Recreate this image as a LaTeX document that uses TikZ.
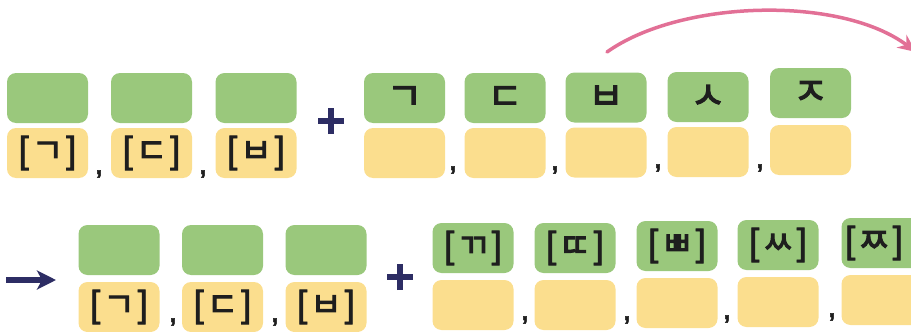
\documentclass[tikz,border=0pt]{standalone}
\usepackage{fontspec}
\newfontfamily\jmf[FakeBold=3]{Noto Sans CJK KR}
\newfontfamily\brf[FakeBold=2]{Liberation Sans}
\newfontfamily\cm[FakeBold=2]{Liberation Sans Bold}
\usetikzlibrary{arrows.meta}
\definecolor{boxgreen}{RGB}{154,200,124}
\definecolor{boxyellow}{RGB}{251,222,142}
\definecolor{navy}{RGB}{45,45,100}
\definecolor{pinkarc}{RGB}{226,112,150}
\definecolor{ink}{RGB}{30,30,30}
\newcommand\brk[1]{{\brf\fontsize{37}{37}\selectfont[}\hspace{3pt}{\jmf\fontsize{34}{34}\selectfont #1}\hspace{3pt}{\brf\fontsize{37}{37}\selectfont]}}
\tikzset{
  gbox/.style={fill=boxgreen, rounded corners=9pt, minimum width=81pt, minimum height=50pt, inner sep=0pt, text=ink},
  ybox/.style={fill=boxyellow, rounded corners=9pt, minimum width=81pt, minimum height=50pt, inner sep=0pt, text=ink},
  jamotext/.style={font=\jmf\fontsize{38}{38}\selectfont},
  comma/.style={font=\cm\fontsize{24}{24}\selectfont, text=ink, anchor=base, inner sep=0pt},
  plusline/.style={draw=navy, line width=5.5pt},
}
\begin{document}
\begin{tikzpicture}[x=1pt,y=-1pt]
\useasboundingbox (0,0) rectangle (911,332);
% ---- row 1, left
\node[gbox] (g11) at (47.5,98) {};
\node[gbox] (g12) at (151.5,98) {};
\node[gbox] (g13) at (256,98) {};
\node[ybox] (y11) at (47.5,153) {\brk{ㄱ}};
\node[ybox] (y12) at (151.5,153) {\brk{ㄷ}};
\node[ybox] (y13) at (256,153) {\brk{ㅂ}};
\node[comma] (c11) at (99,174) {,};
\node[comma] (c12) at (203,174) {,};
% plus 1
\coordinate (p1) at (331,121);
\draw[plusline] ([xshift=-13pt]p1) -- ([xshift=13pt]p1);
\draw[plusline] ([yshift=-13pt]p1) -- ([yshift=13pt]p1);
% ---- row 1, right
\node[gbox,jamotext] (g21) at (404.5,98) {ㄱ};
\node[gbox,jamotext] (g22) at (505,98) {ㄷ};
\node[gbox,jamotext] (g23) at (606,97.5) {ㅂ};
\node[gbox,jamotext] (g24) at (708,97) {ㅅ};
\node[gbox,jamotext] (g25) at (810.5,93) {ㅈ};
\node[ybox] (y21) at (404.5,153) {};
\node[ybox] (y22) at (505,153) {};
\node[ybox] (y23) at (606,152.5) {};
\node[ybox] (y24) at (708,152) {};
\node[ybox] (y25) at (810.5,150) {};
\node[comma] (c21) at (453,170) {,};
\node[comma] (c22) at (555,170) {,};
\node[comma] (c23) at (658,168) {,};
\node[comma] (c24) at (760,168) {,};
% arc arrow
\coordinate (aS) at (607,52);
\coordinate (aE) at (916,52);
\draw[pinkarc, line width=3.5pt, line cap=round, -{Stealth[length=18pt,width=16pt]}]
  (aS) .. controls (680,0) and (840,-5) .. (aE);
% ---- row 2
\coordinate (rS) at (6,280);
\coordinate (rE) at (56,280);
\draw[navy, line width=6pt, -{Stealth[length=19pt,width=19pt,inset=5pt]}] (rS) -- (rE);
\node[gbox] (g31) at (119,250) {};
\node[gbox] (g32) at (222.5,250) {};
\node[gbox] (g33) at (326,250) {};
\node[ybox] (y31) at (119,307) {\brk{ㄱ}};
\node[ybox] (y32) at (222.5,307) {\brk{ㄷ}};
\node[ybox] (y33) at (326,307) {\brk{ㅂ}};
\node[comma] (c31) at (173,322) {,};
\node[comma] (c32) at (275,322) {,};
% plus 2
\coordinate (p2) at (400,277);
\draw[plusline] ([xshift=-13pt]p2) -- ([xshift=13pt]p2);
\draw[plusline] ([yshift=-13pt]p2) -- ([yshift=13pt]p2);
% row 2 right
\node[gbox] (g41) at (473,248) {\brk{ㄲ}};
\node[gbox] (g42) at (575,248) {\brk{ㄸ}};
\node[gbox] (g43) at (677,246) {\brk{ㅃ}};
\node[gbox] (g44) at (778,245) {\brk{ㅆ}};
\node[gbox] (g45) at (882,243) {\hspace{-16pt}\brk{ㅉ}};
\node[ybox] (y41) at (473,305) {};
\node[ybox] (y42) at (575,305) {};
\node[ybox] (y43) at (677,303) {};
\node[ybox] (y44) at (778,302) {};
\node[ybox] (y45) at (882,300) {};
\node[comma] (c41) at (525,320) {,};
\node[comma] (c42) at (627,320) {,};
\node[comma] (c43) at (727,319) {,};
\node[comma] (c44) at (832,317) {,};
\end{tikzpicture}
\end{document}
